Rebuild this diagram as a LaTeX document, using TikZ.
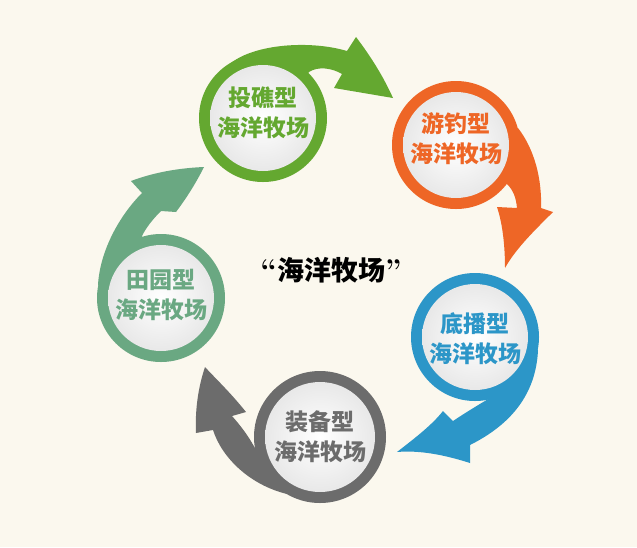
\documentclass[tikz,border=0pt]{standalone}
\usepackage{fontspec}
\newfontfamily\cjk{Noto Sans CJK SC}
\definecolor{bgc}{RGB}{251,248,238}
\definecolor{cG}{RGB}{100,168,48}
\definecolor{cO}{RGB}{238,102,38}
\definecolor{cB}{RGB}{44,150,200}
\definecolor{cY}{RGB}{108,108,108}
\definecolor{cT}{RGB}{106,168,130}
\begin{document}
\begin{tikzpicture}[x=1pt,y=-1pt,
  ringtxt/.style={align=center,font=\cjk\bfseries\fontsize{23}{30}\selectfont,inner sep=0pt},
  disk/.style={inner color=white,outer color=black!9}]
\useasboundingbox (0,0) rectangle (637,547);
\fill[bgc] (0,0) rectangle (637,547);
% arrows (swooshes)
\fill[cG] (263,118) -- (231,63) .. controls (255,44) and (310,40) .. (347,51) -- (356,37)
  .. controls (372,58) and (384,78) .. (393,98) -- (334,88) -- (342,74)
  .. controls (332,68) and (318,66) .. (309,72) -- cycle;
\fill[cO] (456,145) -- (518,128) .. controls (535,150) and (542,180) .. (541,208) -- (553,212)
  .. controls (537,228) and (516,248) .. (505,268) .. controls (505,248) and (503,225) .. (497,207)
  -- (517,208) .. controls (516,197) and (513,190) .. (507,184) -- cycle;
\fill[cB] (475,337) -- (538,350) .. controls (536,395) and (510,425) .. (470,445) -- (470,463)
  .. controls (445,455) and (420,450) .. (397,452) .. controls (415,438) and (432,425) .. (443,411)
  -- (453,421) .. controls (465,413) and (478,405) .. (490,398) -- cycle;
\fill[cY] (320,437) -- (256,450) .. controls (248,435) and (240,425) .. (232,416) -- (246,412)
  .. controls (230,392) and (215,378) .. (205,367) .. controls (198,388) and (195,410) .. (196,433)
  -- (213,430) .. controls (222,458) and (250,485) .. (287,494) -- cycle;
\fill[cT] (161,298) -- (98,285) .. controls (100,250) and (120,215) .. (142,193) -- (131,181)
  .. controls (155,172) and (180,168) .. (204,167) .. controls (195,185) and (185,200) .. (176,212)
  -- (161,211) .. controls (152,220) and (146,228) .. (142,236) -- cycle;
% rings
\fill[cG] (263,118) circle (64);
\fill[cO] (456,145) circle (64);
\fill[cB] (475,337) circle (64);
\fill[cY] (320,437) circle (66);
\fill[cT] (161,298) circle (64);
\shade[disk] (263,118) circle (53);
\shade[disk] (456,145) circle (53);
\shade[disk] (475,337) circle (53);
\shade[disk] (320,437) circle (55);
\shade[disk] (161,298) circle (53);
% texts
\node[ringtxt,text=cG] (tG) at (263,113) {投礁型\\海洋牧场};
\node[ringtxt,text=cO] (tO) at (456,139) {游钓型\\海洋牧场};
\node[ringtxt,text=cB] (tB) at (475,339) {底播型\\海洋牧场};
\node[ringtxt,text=cY] (tY) at (320,437) {装备型\\海洋牧场};
\node[ringtxt,text=cT] (tT) at (161,295) {田园型\\海洋牧场};
\node[font=\bfseries\fontsize{30}{30}\selectfont,inner sep=0pt] (title) at (331,270)
  {“{\cjk\bfseries\fontsize{27}{30}\selectfont 海洋牧场}”};
\end{tikzpicture}
\end{document}
